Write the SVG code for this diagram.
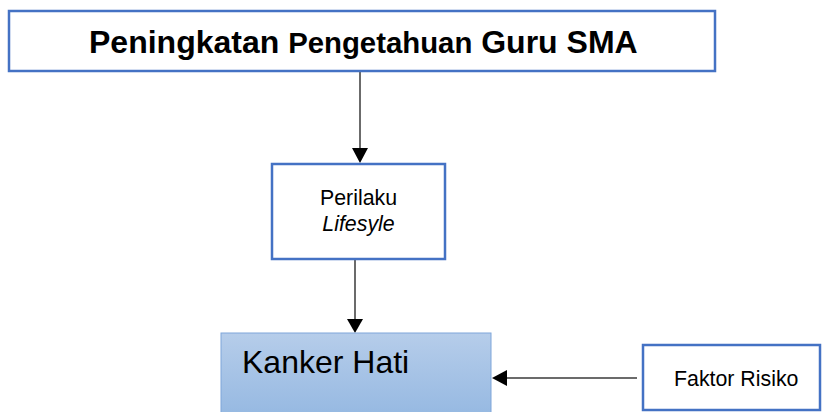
<svg xmlns="http://www.w3.org/2000/svg" width="822" height="412" viewBox="0 0 822 412">
<style>
.box{fill:#fff;stroke:#4472C4;stroke-width:2.5}
.t{font-family:"Liberation Sans",Arial,sans-serif;fill:#000}
.c{stroke:#3a3a3a;stroke-width:1.5;fill:none}
.ah{fill:#000}
</style>
<defs>
<linearGradient id="g" x1="0" y1="0" x2="0" y2="1">
<stop offset="0" stop-color="#B6CDEA"/>
<stop offset="1" stop-color="#93B7E1"/>
</linearGradient>
</defs>
<rect width="822" height="412" fill="#fff"/>
<g id="connectors">
<line class="c" x1="360" y1="72" x2="360" y2="150"/>
<polygon class="ah" points="352,148 368,148 360,163"/>
<line class="c" x1="355" y1="260" x2="355" y2="320"/>
<polygon class="ah" points="347,319 363,319 355,333"/>
<line class="c" x1="637" y1="378" x2="505" y2="378"/>
<polygon class="ah" points="507,370 507,386 492,378"/>
</g>
<g id="node-peningkatan">
<rect class="box" x="9" y="11" width="706" height="60"/>
<text class="t" x="89" y="53" font-weight="bold" font-size="32">Peningkatan <tspan font-size="29.33">Pengetahuan</tspan> Guru SMA</text>
</g>
<g id="node-perilaku">
<rect class="box" x="272" y="164" width="173" height="95"/>
<text class="t" x="358.5" y="205" font-size="21.33" text-anchor="middle">Perilaku</text>
<text class="t" x="358.5" y="231" font-size="21.33" font-style="italic" text-anchor="middle">Lifesyle</text>
</g>
<g id="node-kanker">
<rect x="221" y="333" width="270" height="90" fill="url(#g)" stroke="#7EA6DA" stroke-width="1"/>
<text class="t" x="242" y="373" font-size="32">Kanker Hati</text>
</g>
<g id="node-faktor">
<rect class="box" x="643" y="345" width="177" height="65"/>
<text class="t" x="674" y="386" font-size="21.33">Faktor Risiko</text>
</g>
</svg>
